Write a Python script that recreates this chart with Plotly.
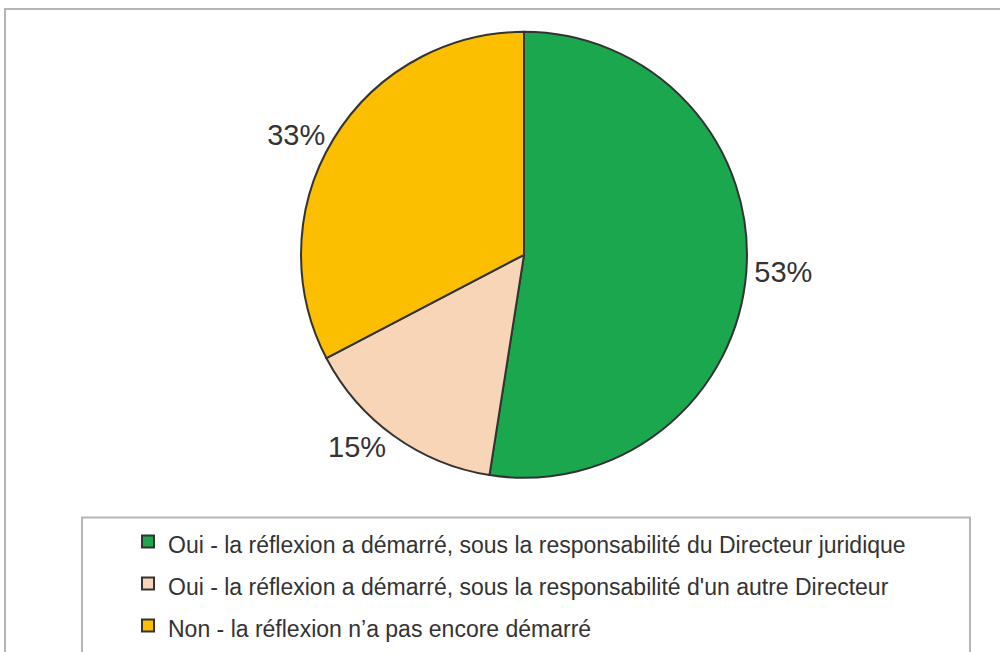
import plotly.graph_objects as go

# Survey answers and their shares (%)
labels = [
    "Oui - la réflexion a démarré, sous la responsabilité du Directeur juridique",
    "Oui - la réflexion a démarré, sous la responsabilité d'un autre Directeur",
    "Non - la réflexion n’a pas encore démarré",
]
values = [53, 15, 33]
colors = ["#1ba74d", "#f8d5b6", "#fbbf00"]

TEXT = "#333333"
W, H = 1000, 652

# legend font is kept big so rows get spaced out; the label itself is smaller
legend_labels = [f"<span style='font-size:23px'>{t}</span>" for t in labels]

fig = go.Figure(go.Pie(
    labels=legend_labels,
    values=values,
    sort=False,
    direction="clockwise",
    rotation=0,
    marker=dict(colors=colors, line=dict(color="#333333", width=2)),
    texttemplate="%{value}%",
    textposition="outside",
    outsidetextfont=dict(size=29, color=TEXT),
    hovertemplate="%{label}: %{value}%<extra></extra>",
    domain=dict(x=[300 / W, 748 / W], y=[1 - 480 / H, 1 - 32 / H]),
))

# outer frame and legend box
fig.add_shape(type="rect", xref="paper", yref="paper",
              x0=5 / W, x1=1.02, y0=-0.05, y1=1 - 9 / H,
              line=dict(color="#b5b5b5", width=2), layer="below")
fig.add_shape(type="rect", xref="paper", yref="paper",
              x0=82 / W, x1=970 / W, y0=-0.05, y1=1 - 520 / H,
              line=dict(color="#b5b5b5", width=2), layer="below")

fig.update_layout(
    width=W, height=H,
    margin=dict(l=0, r=0, t=0, b=0),
    paper_bgcolor="white",
    plot_bgcolor="white",
    font=dict(family="Arial, Liberation Sans, sans-serif", color=TEXT),
    showlegend=True,
    legend=dict(
        x=128 / W, xanchor="left",
        y=1 - 518 / H, yanchor="top",
        font=dict(size=30, color=TEXT),
        bgcolor="rgba(0,0,0,0)",
        borderwidth=0,
    ),
)

# drop the page's default body margin so the figure sits at (0, 0)
fig.write_html(
    "out.html",
    config={"displayModeBar": False},
    post_script="document.body.style.margin='0';",
)
